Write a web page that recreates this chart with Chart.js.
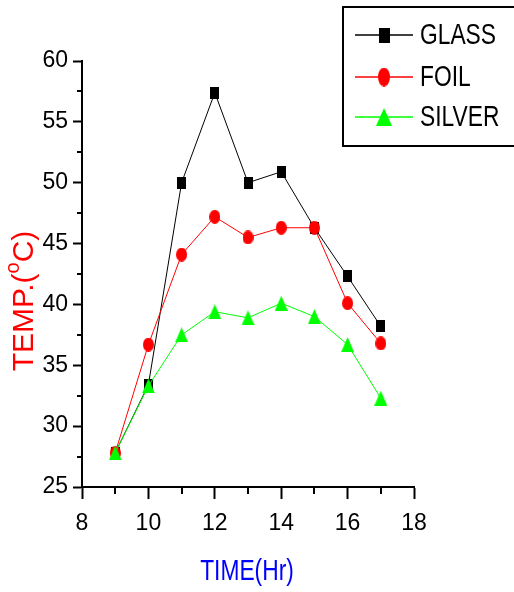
<!DOCTYPE html>
<html>
<head>
<meta charset="utf-8">
<script src="https://cdn.jsdelivr.net/npm/chart.js@4.4.1/dist/chart.umd.min.js"></script>
<style>
    html, body { margin: 0; padding: 0; background: #fff; }
    canvas { display: block; }
</style>
</head>
<body>
<canvas id="chart" width="514" height="592"></canvas>
<script>
// values
const hours = [9, 10, 11, 12, 13, 14, 15, 16, 17];
const glass = [27.8, 33.4, 50.0, 57.4, 50.0, 50.9, 46.3, 42.3, 38.2];
const foil = [27.8, 36.7, 44.1, 47.2, 45.5, 46.3, 46.3, 40.1, 36.8];
const silver = [27.8, 33.3, 37.5, 39.4, 38.9, 40.1, 39.0, 36.7, 32.3];
const seriesNames = ['GLASS', 'FOIL', 'SILVER'];
const xMinorTicks = [9, 11, 13, 15, 17];
const yMinorTicks = [27.5, 32.5, 37.5, 42.5, 47.5, 52.5, 57.5];

const FONT = '"Liberation Sans", Arial, sans-serif';
const NARROW = 0.76; // text in the picture is squeezed sideways

const makeMarker = (shape, w, h, color) => {
    const c = document.createElement('canvas');
    c.width = w;
    c.height = h;
    const g = c.getContext('2d');
    g.fillStyle = color;
    g.beginPath();
    if (shape === 'rect') {
        g.rect(0, 0, w, h);
    } else if (shape === 'ellipse') {
        g.ellipse(w / 2, h / 2, w / 2, h / 2, 0, 0, Math.PI * 2);
    } else {
        g.moveTo(w / 2, 0);
        g.lineTo(w, h);
        g.lineTo(0, h);
        g.closePath();
    }
    g.fill();
    return c;
}

const colors = ['#000000', '#ff0000', '#00ff00'];
const markers = [
    makeMarker('rect', 9, 12, colors[0]),
    makeMarker('ellipse', 11, 14, colors[1]),
    makeMarker('tri', 13, 15, colors[2])
];
const legendMarkers = [
    makeMarker('rect', 11, 15, colors[0]),
    makeMarker('ellipse', 12, 19, colors[1]),
    makeMarker('tri', 16, 18, colors[2])
];

const toPoints = (vals) => hours.map((h, i) => ({x: h, y: vals[i]}));

// draws text squeezed horizontally, starting at x (or centred)
const narrowText = (ctx, text, x, y, center) => {
    ctx.save();
    ctx.translate(x, y);
    ctx.scale(NARROW, 1);
    const w = center ? ctx.measureText(text).width / 2 : 0;
    ctx.fillText(text, -w, 0);
    ctx.restore();
}

const extras = {
    id: 'extras',
    afterDraw(chart) {
        const {ctx, scales: {x, y}} = chart;
        ctx.save();

        // minor ticks
        ctx.strokeStyle = '#000';
        ctx.lineWidth = 2;
        ctx.beginPath();
        xMinorTicks.forEach(v => {
            const px = Math.round(x.getPixelForValue(v));
            ctx.moveTo(px, y.bottom);
            ctx.lineTo(px, y.bottom + 7);
        });
        yMinorTicks.forEach(v => {
            const py = Math.round(y.getPixelForValue(v));
            ctx.moveTo(x.left, py);
            ctx.lineTo(x.left - 5, py);
        });
        ctx.stroke();

        const big = '30px ' + FONT;

        // x title
        ctx.font = big;
        ctx.fillStyle = '#0000ff';
        ctx.textBaseline = 'alphabetic';
        narrowText(ctx, 'TIME(Hr)', (x.left + x.right) / 2 - 1, 580, true);

        // y title with superscript o
        ctx.save();
        ctx.translate(33, 301);
        ctx.rotate(-Math.PI / 2);
        ctx.fillStyle = '#ff0000';
        ctx.font = big;
        const w1 = ctx.measureText('TEMP.(').width;
        const w3 = ctx.measureText('C)').width;
        ctx.font = '20px ' + FONT;
        const w2 = ctx.measureText('o').width;
        let sx = -(w1 + w2 + w3) / 2;
        ctx.font = big;
        ctx.fillText('TEMP.(', sx, 0);
        sx += w1;
        ctx.font = '20px ' + FONT;
        ctx.fillText('o', sx, -14);
        sx += w2;
        ctx.font = big;
        ctx.fillText('C)', sx, 0);
        ctx.restore();

        // legend box
        ctx.strokeStyle = '#000';
        ctx.lineWidth = 2;
        ctx.strokeRect(343, 7, 190, 139);
        const rows = [35, 77, 117];
        ctx.font = big;
        ctx.textBaseline = 'middle';
        seriesNames.forEach((name, i) => {
            ctx.strokeStyle = colors[i];
            ctx.lineWidth = 1.5;
            ctx.beginPath();
            ctx.moveTo(355, rows[i]);
            ctx.lineTo(413, rows[i]);
            ctx.stroke();
            const m = legendMarkers[i];
            ctx.drawImage(m, 384 - m.width / 2, rows[i] - m.height / 2);
            ctx.fillStyle = '#000';
            narrowText(ctx, name, 420, rows[i] + 1, false);
        });

        ctx.restore();
    }
};

const ctx = document.getElementById('chart').getContext('2d');

new Chart(ctx, {
    type: 'line',
    data: {
        datasets: [glass, foil, silver].map((vals, i) => ({
            label: seriesNames[i],
            data: toPoints(vals),
            borderColor: colors[i],
            backgroundColor: colors[i],
            borderWidth: 1,
            pointStyle: markers[i],
            pointRadius: 6,
            fill: false,
            tension: 0,
            order: 3 - i
        }))
    },
    options: {
        responsive: false,
        animation: false,
        layout: {padding: {left: 0, top: 61, right: 100, bottom: 0}},
        plugins: {legend: {display: false}, tooltip: {enabled: false}},
        scales: {
            x: {
                type: 'linear',
                min: 8,
                max: 18,
                ticks: {stepSize: 2, color: '#000', font: {family: FONT, size: 23}, padding: 11},
                grid: {drawOnChartArea: false, tickLength: 12, tickWidth: 2, tickColor: '#000'},
                border: {color: '#000', width: 2},
                afterFit: (s) => { s.height = 105; }
            },
            y: {
                min: 25,
                max: 60,
                ticks: {stepSize: 5, color: '#000', font: {family: FONT, size: 23}, padding: 5},
                grid: {drawOnChartArea: false, tickLength: 9, tickWidth: 2, tickColor: '#000'},
                border: {color: '#000', width: 2},
                afterFit: (s) => { s.width = 82; }
            }
        }
    },
    plugins: [extras]
});
</script>
</body>
</html>
